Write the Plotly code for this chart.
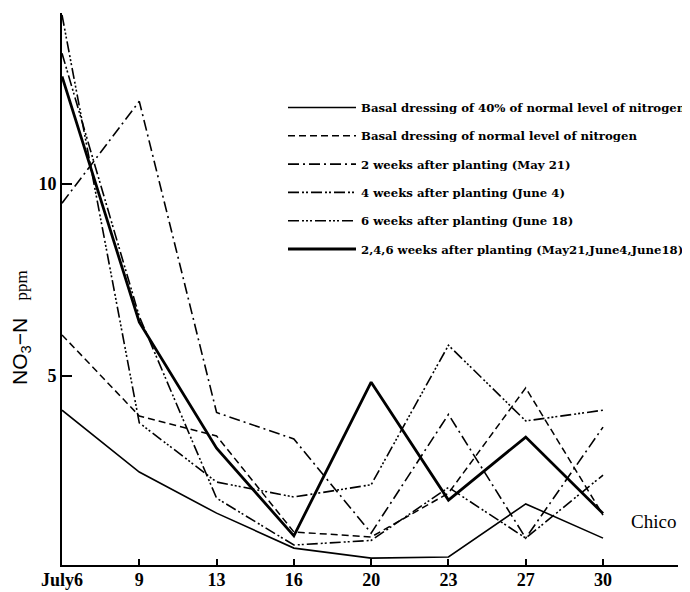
import plotly.graph_objects as go

categories = ["July6", "9", "13", "16", "20", "23", "27", "30"]
x_idx = list(range(len(categories)))

basal_40 = [4.11, 2.50, 1.43, 0.52, 0.26, 0.29, 1.67, 0.78]
basal_normal = [6.07, 3.96, 3.44, 0.94, 0.81, 1.95, 4.69, 1.38]
weeks_2 = [9.50, 12.15, 4.05, 3.36, 0.91, 4.00, 0.78, 3.67]
weeks_4 = [13.40, 6.55, 1.82, 0.60, 0.72, 2.10, 0.78, 2.42]
weeks_6 = [14.40, 3.78, 2.24, 1.85, 2.17, 5.80, 3.83, 4.11]
weeks_246 = [12.80, 6.40, 3.12, 0.84, 4.84, 1.77, 3.41, 1.42]

names = [
    "Basal dressing of 40% of normal level of nitrogen",
    "Basal dressing of normal level of nitrogen",
    "2 weeks after planting (May 21)",
    "4 weeks after planting (June 4)",
    "6 weeks after planting (June 18)",
    "2,4,6 weeks after planting (May21,June4,June18)",
]
series = [basal_40, basal_normal, weeks_2, weeks_4, weeks_6, weeks_246]
dashes = [
    "solid",
    "7px,4px",
    "11px,4px,2px,4px",
    "11px,3px,2px,2px,2px,3px",
    "11px,3px,2px,2px,2px,2px,2px,3px",
    "solid",
]
widths = [1.6, 1.5, 1.6, 1.6, 1.6, 2.8]

fig = go.Figure()
for i, (nm, ys, d, w) in enumerate(zip(names, series, dashes, widths)):
    fig.add_trace(go.Scatter(
        x=x_idx, y=ys, mode="lines", name=nm,
        legendgroup=f"g{i}",
        line=dict(color="black", width=w, dash=d),
    ))

# page offset of the figure inside the browser window (default body margin)
OFF = 8
W, H = 690 - OFF, 592 - OFF
L, R, T, B = 62 - OFF, 12, 13 - OFF, 27
pw = W - L - R
ph = H - T - B

def px_to_paper_x(px):
    return (px - OFF - L) / pw

def px_to_paper_y(py):
    return (H - B - (py - OFF)) / ph

fig.update_layout(
    width=W, height=H,
    margin=dict(l=L, r=R, t=T, b=B, pad=0, autoexpand=False),
    paper_bgcolor="white", plot_bgcolor="white",
    showlegend=True,
    legend=dict(
        x=px_to_paper_x(283), y=px_to_paper_y(93),
        xanchor="left", yanchor="top",
        bgcolor="rgba(0,0,0,0)",
        itemwidth=68,
        tracegroupgap=9.3,
        traceorder="grouped",
        font=dict(family="DejaVu Serif", size=11.7, color="black", weight="bold"),
    ),
    xaxis=dict(
        range=[0, 7.97], automargin=False,
        tickmode="array", tickvals=x_idx, ticktext=categories,
        ticks="inside", ticklen=6, tickwidth=1.5, tickcolor="black",
        showline=True, linecolor="black", linewidth=2,
        showgrid=False, zeroline=False,
        ticklabelstandoff=-3,
        tickfont=dict(family="Liberation Serif", size=18, color="black", weight="bold"),
    ),
    yaxis=dict(
        range=[0.08, 14.45], automargin=False,
        tickmode="array", tickvals=[5, 10], ticktext=["5", "10"],
        ticks="inside", ticklen=10, tickwidth=1.5, tickcolor="black",
        showline=True, linecolor="black", linewidth=2,
        showgrid=False, zeroline=False,
        tickfont=dict(family="Liberation Serif", size=18, color="black", weight="bold"),
    ),
    annotations=[
        dict(
            xref="paper", yref="paper",
            x=px_to_paper_x(21), y=px_to_paper_y(328),
            text="NO<sub>3</sub>−N   <span style='font-family:Liberation Serif;font-size:17px'>ppm</span>",
            textangle=-90, showarrow=False,
            font=dict(family="Liberation Sans", size=21, color="black"),
            xanchor="center", yanchor="middle",
        ),
        dict(
            xref="paper", yref="paper",
            x=px_to_paper_x(653), y=px_to_paper_y(521),
            text="Chico", showarrow=False,
            font=dict(family="Liberation Serif", size=19, color="black"),
            xanchor="center", yanchor="middle",
        ),
    ],
)

fig.write_html("out.html")
